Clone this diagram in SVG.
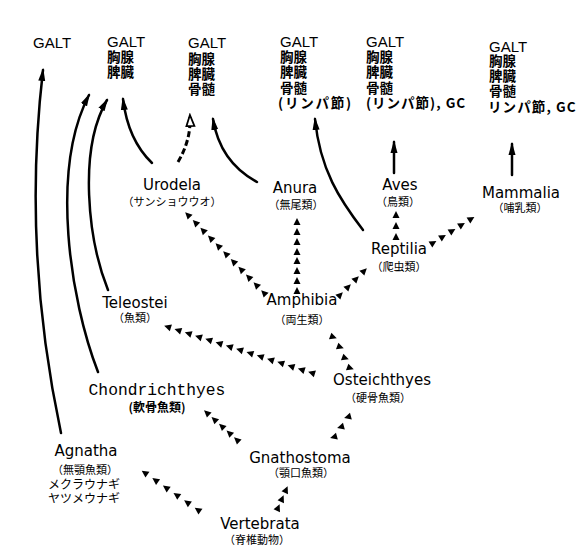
<svg xmlns="http://www.w3.org/2000/svg" xmlns:xlink="http://www.w3.org/1999/xlink" width="582" height="551" viewBox="0 0 582 551">
<style>
text{fill:#000}
.top{font-family:"Liberation Sans","Noto Sans CJK JP",sans-serif;font-size:15px;font-weight:normal}
.cj{font-family:"Noto Sans CJK JP",sans-serif;font-size:13.5px;font-weight:bold}
.nm{font-family:"DejaVu Sans",sans-serif;font-size:15px;text-anchor:middle}
.mono{font-family:"Liberation Mono",monospace;font-size:16.3px}
.sub{font-family:"Noto Sans CJK JP",sans-serif;font-size:11px}
.ln{fill:none;stroke:#000;stroke-width:2.5;stroke-linecap:round}
.dash{fill:none;stroke:#000;stroke-width:3;stroke-dasharray:6 3}
.tri{fill:#000}
</style>
<defs>
<marker id="ah" markerWidth="14" markerHeight="10" refX="11" refY="4" orient="auto" markerUnits="userSpaceOnUse"><path d="M0,0.5 L13,4 L0,7.5 Z" fill="#000"/></marker>
<marker id="oh" markerWidth="14" markerHeight="12" refX="10" refY="5" orient="auto" markerUnits="userSpaceOnUse"><path d="M1,1 L12,5 L1,9 Z" fill="#fff" stroke="#000" stroke-width="1.8"/></marker>
<path id="tri" d="M4,0 L-3,-3.5 L-3,3.5 Z"/>
</defs>
<rect width="582" height="551" fill="#fff"/>

<g id="top1"><text class="top" x="33" y="48">GALT</text></g>
<g id="top2"><text class="cj"><tspan class="top" x="107" y="47">GALT</tspan><tspan x="107" y="62">胸腺</tspan><tspan x="107" y="77">脾臓</tspan></text></g>
<g id="top3"><text class="cj"><tspan class="top" x="188" y="48">GALT</tspan><tspan x="188" y="64">胸腺</tspan><tspan x="188" y="79">脾臓</tspan><tspan x="188" y="94">骨髄</tspan></text></g>
<g id="top4"><text class="cj"><tspan class="top" x="280" y="47">GALT</tspan><tspan x="280" y="62">胸腺</tspan><tspan x="280" y="77">脾臓</tspan><tspan x="280" y="93">骨髄</tspan><tspan x="278" y="108" letter-spacing="1.8">(リンパ節)</tspan></text></g>
<g id="top5"><text class="cj"><tspan class="top" x="366" y="47">GALT</tspan><tspan x="366" y="62">胸腺</tspan><tspan x="366" y="77">脾臓</tspan><tspan x="366" y="93">骨髄</tspan><tspan x="366" y="108" letter-spacing="1">(リンパ節), GC</tspan></text></g>
<g id="top6"><text class="cj"><tspan class="top" x="489" y="52">GALT</tspan><tspan x="489" y="66">胸腺</tspan><tspan x="489" y="81">脾臓</tspan><tspan x="489" y="96">骨髄</tspan><tspan x="488" y="112" letter-spacing="1.1">リンパ節, GC</tspan></text></g>

<g id="urodela"><text class="nm"><tspan x="172" y="190">Urodela</tspan><tspan class="sub" x="172" y="206">（サンショウウオ）</tspan></text></g>
<g id="anura"><text class="nm"><tspan x="295" y="193">Anura</tspan><tspan class="sub" x="296" y="209">（無尾類）</tspan></text></g>
<g id="aves"><text class="nm"><tspan x="400" y="190">Aves</tspan><tspan class="sub" x="398" y="206">（鳥類）</tspan></text></g>
<g id="mammalia"><text class="nm"><tspan x="521" y="198">Mammalia</tspan><tspan class="sub" x="520" y="212">（哺乳類）</tspan></text></g>
<g id="reptilia"><text class="nm"><tspan x="399" y="254">Reptilia</tspan><tspan class="sub" x="399" y="271">（爬虫類）</tspan></text></g>
<g id="amphibia"><text class="nm"><tspan x="302" y="305">Amphibia</tspan><tspan class="sub" x="302" y="324">（両生類）</tspan></text></g>
<g id="teleostei"><text class="nm"><tspan x="135" y="308">Teleostei</tspan><tspan class="sub" x="135" y="322">（魚類）</tspan></text></g>
<g id="osteichthyes"><text class="nm"><tspan x="382" y="385">Osteichthyes</tspan><tspan class="sub" x="378" y="402">（硬骨魚類）</tspan></text></g>
<g id="chondrichthyes"><text class="nm"><tspan class="mono" x="157" y="395">Chondrichthyes</tspan><tspan class="sub" x="157" y="412" style="font-size:12px;font-weight:bold">(軟骨魚類)</tspan></text></g>
<g id="gnathostoma"><text class="nm"><tspan x="300" y="463">Gnathostoma</tspan><tspan class="sub" x="301" y="477">（顎口魚類）</tspan></text></g>
<g id="agnatha"><text class="nm"><tspan x="86" y="456">Agnatha</tspan><tspan class="sub" x="85" y="474">（無顎魚類）</tspan><tspan class="sub" x="84" y="489" style="font-size:12px">メクラウナギ</tspan><tspan class="sub" x="84" y="503" style="font-size:12px">ヤツメウナギ</tspan></text></g>
<g id="vertebrata"><text class="nm"><tspan x="260" y="529">Vertebrata</tspan><tspan class="sub" x="257" y="544">（脊椎動物）</tspan></text></g>

<g id="connectors">
<path class="ln" d="M61,433 Q22,250 43,70" marker-end="url(#ah)"/>
<path class="ln" d="M98,372 C70,300 50,170 89,95" marker-end="url(#ah)"/>
<path class="ln" d="M108,290 C88,240 78,150 107,100" marker-end="url(#ah)"/>
<path class="ln" d="M152,163 Q128,140 123,99" marker-end="url(#ah)"/>
<path class="dash" d="M178,162 Q191,140 190,117" marker-end="url(#oh)"/>
<path class="ln" d="M257,182 Q220,162 213,119" marker-end="url(#ah)"/>
<path class="ln" d="M363,230 C340,200 320,170 315,119" marker-end="url(#ah)"/>
<path class="ln" d="M394,173 L394,142" marker-end="url(#ah)"/>
<path class="ln" d="M512,175 L512,144" marker-end="url(#ah)"/>

<g class="tri">
<use xlink:href="#tri" transform="translate(188,215) rotate(225)"/>
<use xlink:href="#tri" transform="translate(195.6,222.8) rotate(225)"/>
<use xlink:href="#tri" transform="translate(203.2,230.6) rotate(225)"/>
<use xlink:href="#tri" transform="translate(210.8,238.4) rotate(225)"/>
<use xlink:href="#tri" transform="translate(218.4,246.2) rotate(225)"/>
<use xlink:href="#tri" transform="translate(226,254) rotate(225)"/>
<use xlink:href="#tri" transform="translate(233.6,261.8) rotate(225)"/>
<use xlink:href="#tri" transform="translate(241.2,269.6) rotate(225)"/>
<use xlink:href="#tri" transform="translate(248.8,277.4) rotate(225)"/>
<use xlink:href="#tri" transform="translate(256.4,285.2) rotate(225)"/>
<use xlink:href="#tri" transform="translate(264,293) rotate(225)"/>

<use xlink:href="#tri" transform="translate(297,222) rotate(-90)"/>
<use xlink:href="#tri" transform="translate(297,232) rotate(-90)"/>
<use xlink:href="#tri" transform="translate(297,242) rotate(-90)"/>
<use xlink:href="#tri" transform="translate(297,252) rotate(-90)"/>
<use xlink:href="#tri" transform="translate(297,261) rotate(-90)"/>
<use xlink:href="#tri" transform="translate(297,271) rotate(-90)"/>
<use xlink:href="#tri" transform="translate(297,281) rotate(-90)"/>
<use xlink:href="#tri" transform="translate(297,291) rotate(-90)"/>

<use xlink:href="#tri" transform="translate(396,215) rotate(-90)"/>
<use xlink:href="#tri" transform="translate(396,226) rotate(-90)"/>
<use xlink:href="#tri" transform="translate(396,237) rotate(-90)"/>

<use xlink:href="#tri" transform="translate(340,295) rotate(-45)"/>
<use xlink:href="#tri" transform="translate(348,287) rotate(-45)"/>
<use xlink:href="#tri" transform="translate(356,279) rotate(-45)"/>
<use xlink:href="#tri" transform="translate(364,271) rotate(-45)"/>

<use xlink:href="#tri" transform="translate(433,243) rotate(-32)"/>
<use xlink:href="#tri" transform="translate(442.5,237) rotate(-32)"/>
<use xlink:href="#tri" transform="translate(452,231) rotate(-32)"/>
<use xlink:href="#tri" transform="translate(461.5,225) rotate(-32)"/>
<use xlink:href="#tri" transform="translate(471,219) rotate(-32)"/>

<use xlink:href="#tri" transform="translate(333,337) rotate(20)"/>
<use xlink:href="#tri" transform="translate(340,347) rotate(20)"/>
<use xlink:href="#tri" transform="translate(345,358) rotate(20)"/>
<use xlink:href="#tri" transform="translate(350,368) rotate(20)"/>

<use xlink:href="#tri" transform="translate(168,327) rotate(198)"/>
<use xlink:href="#tri" transform="translate(178.3,330.3) rotate(198)"/>
<use xlink:href="#tri" transform="translate(188.6,333.6) rotate(198)"/>
<use xlink:href="#tri" transform="translate(198.9,336.9) rotate(198)"/>
<use xlink:href="#tri" transform="translate(209.1,340.1) rotate(198)"/>
<use xlink:href="#tri" transform="translate(219.4,343.4) rotate(198)"/>
<use xlink:href="#tri" transform="translate(229.7,346.7) rotate(198)"/>
<use xlink:href="#tri" transform="translate(240,350) rotate(198)"/>
<use xlink:href="#tri" transform="translate(250.3,353.3) rotate(198)"/>
<use xlink:href="#tri" transform="translate(260.6,356.6) rotate(198)"/>
<use xlink:href="#tri" transform="translate(270.9,359.9) rotate(198)"/>
<use xlink:href="#tri" transform="translate(281.1,363.1) rotate(198)"/>
<use xlink:href="#tri" transform="translate(291.4,366.4) rotate(198)"/>
<use xlink:href="#tri" transform="translate(301.7,369.7) rotate(198)"/>
<use xlink:href="#tri" transform="translate(312,373) rotate(198)"/>

<use xlink:href="#tri" transform="translate(348,417) rotate(165)"/>
<use xlink:href="#tri" transform="translate(341,427) rotate(165)"/>
<use xlink:href="#tri" transform="translate(334,437) rotate(165)"/>

<use xlink:href="#tri" transform="translate(207,413) rotate(222)"/>
<use xlink:href="#tri" transform="translate(214.5,419.75) rotate(222)"/>
<use xlink:href="#tri" transform="translate(222,426.5) rotate(222)"/>
<use xlink:href="#tri" transform="translate(229.5,433.25) rotate(222)"/>
<use xlink:href="#tri" transform="translate(237,440) rotate(222)"/>

<use xlink:href="#tri" transform="translate(278,508) rotate(-66)"/>
<use xlink:href="#tri" transform="translate(282,499) rotate(-66)"/>
<use xlink:href="#tri" transform="translate(286,490) rotate(-66)"/>

<use xlink:href="#tri" transform="translate(145,473) rotate(215)"/>
<use xlink:href="#tri" transform="translate(155.6,480.4) rotate(215)"/>
<use xlink:href="#tri" transform="translate(166.2,487.8) rotate(215)"/>
<use xlink:href="#tri" transform="translate(176.8,495.2) rotate(215)"/>
<use xlink:href="#tri" transform="translate(187.4,502.6) rotate(215)"/>
<use xlink:href="#tri" transform="translate(198,510) rotate(215)"/>
</g>
</g>
</svg>
